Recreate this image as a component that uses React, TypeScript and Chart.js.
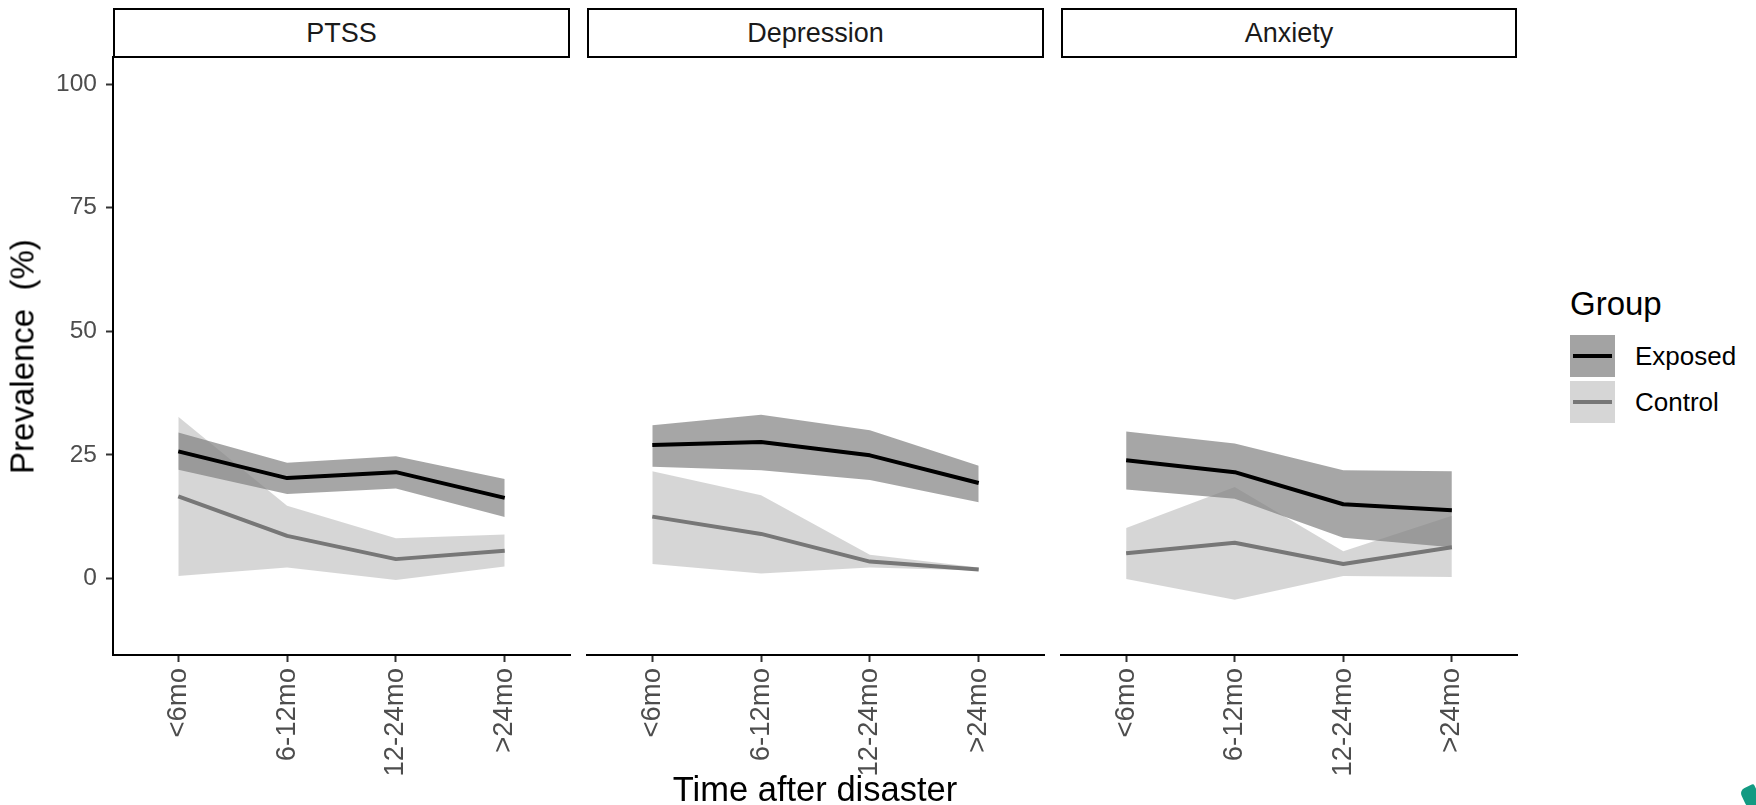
import React, { useEffect, useRef } from 'react';
import { Chart, registerables } from 'chart.js';

Chart.register(...registerables);

const FONT = '"Liberation Sans", Arial, Helvetica, sans-serif';

// ---------- data ----------
const categories = ['<6mo', '6-12mo', '12-24mo', '>24mo'];
const xPositions = [1, 2, 3, 4];
const yTicks = [0, 25, 50, 75, 100];
const yMin = -15.5;
const yMax = 105.5;
const panelTitles = ['PTSS', 'Depression', 'Anxiety'];
const groupLabels = ['Exposed', 'Control'];

const ptssExposed = [25.7, 20.3, 21.5, 16.3];
const ptssExposedLow = [22.0, 17.1, 18.2, 12.4];
const ptssExposedHigh = [29.5, 23.4, 24.7, 20.1];
const ptssControl = [16.6, 8.6, 3.9, 5.6];
const ptssControlLow = [0.5, 2.2, -0.3, 2.4];
const ptssControlHigh = [32.7, 14.7, 8.1, 8.9];

const depExposed = [27.0, 27.6, 24.9, 19.3];
const depExposedLow = [22.6, 21.9, 19.9, 15.4];
const depExposedHigh = [31.0, 33.1, 30.0, 22.8];
const depControl = [12.5, 9.0, 3.4, 1.8];
const depControlLow = [2.9, 1.0, 2.2, 1.6];
const depControlHigh = [21.7, 16.8, 4.8, 2.2];

const anxExposed = [23.9, 21.5, 15.0, 13.8];
const anxExposedLow = [18.0, 16.1, 8.2, 6.3];
const anxExposedHigh = [29.7, 27.3, 21.9, 21.7];
const anxControl = [5.1, 7.2, 2.9, 6.3];
const anxControlLow = [-0.1, -4.3, 0.5, 0.3];
const anxControlHigh = [10.2, 18.5, 5.5, 12.7];

// ---------- styles ----------
const EXPOSED_FILL = 'rgba(128,128,128,0.7)';
const CONTROL_FILL = 'rgba(0,0,0,0.16)';
const EXPOSED_LINE = '#000000';
const CONTROL_LINE = '#777777';
const LINE_W = 4;

const CANVAS_TOP = 47;
const TOP_PAD = 10;
const X_AXIS_H = 145;
const CANVAS_H = 608 + X_AXIS_H; // chart area bottom stays at y = 655
const Y_AXIS_W = 113;

type PanelData = {
  e: number[]; eLow: number[]; eHigh: number[];
  c: number[]; cLow: number[]; cHigh: number[];
};

const panelData: PanelData[] = [
  { e: ptssExposed, eLow: ptssExposedLow, eHigh: ptssExposedHigh, c: ptssControl, cLow: ptssControlLow, cHigh: ptssControlHigh },
  { e: depExposed, eLow: depExposedLow, eHigh: depExposedHigh, c: depControl, cLow: depControlLow, cHigh: depControlHigh },
  { e: anxExposed, eLow: anxExposedLow, eHigh: anxExposedHigh, c: anxControl, cLow: anxControlLow, cHigh: anxControlHigh },
];

// chart-area left/right for each panel
const panelAreas = [
  { left: 113, right: 570 },
  { left: 587, right: 1044 },
  { left: 1061, right: 1517 },
];

const pts = (arr: number[]) => arr.map((v, i) => ({ x: xPositions[i], y: v }));

function Panel({ idx }: { idx: number }) {
  const ref = useRef<HTMLCanvasElement | null>(null);
  const showY = idx === 0;
  const area = panelAreas[idx];
  const canvasLeft = showY ? 0 : area.left - 10;
  const canvasW = area.right + 10 - canvasLeft;

  useEffect(() => {
    if (!ref.current) return;
    const d = panelData[idx];
    const hidden = { borderWidth: 0, pointRadius: 0, pointHoverRadius: 0, tension: 0 };
    const chart = new Chart(ref.current, {
      type: 'line',
      data: {
        datasets: [
          { label: 'ctrlHigh', data: pts(d.cHigh), ...hidden, fill: false, order: 4 },
          { label: 'ctrlLow', data: pts(d.cLow), ...hidden, fill: '-1', backgroundColor: CONTROL_FILL, order: 4 },
          { label: 'expHigh', data: pts(d.eHigh), ...hidden, fill: false, order: 3 },
          { label: 'expLow', data: pts(d.eLow), ...hidden, fill: '-1', backgroundColor: EXPOSED_FILL, order: 3 },
          {
            label: groupLabels[1], data: pts(d.c), borderColor: CONTROL_LINE, borderWidth: LINE_W,
            pointRadius: 0, fill: false, tension: 0, borderJoinStyle: 'round', borderCapStyle: 'butt', order: 2,
          },
          {
            label: groupLabels[0], data: pts(d.e), borderColor: EXPOSED_LINE, borderWidth: LINE_W,
            pointRadius: 0, fill: false, tension: 0, borderJoinStyle: 'round', borderCapStyle: 'butt', order: 1,
          },
        ] as any,
      },
      options: {
        responsive: false,
        animation: false,
        devicePixelRatio: 1,
        layout: { padding: { top: TOP_PAD, left: showY ? 0 : 10, right: 10, bottom: 0 } },
        plugins: { legend: { display: false }, tooltip: { enabled: false }, title: { display: false } },
        events: [],
        scales: {
          x: {
            type: 'linear',
            min: 0.4,
            max: 4.6,
            afterBuildTicks: (s: any) => { s.ticks = xPositions.map((v) => ({ value: v })); },
            afterFit: (s: any) => {
              s.height = X_AXIS_H;
              s.paddingLeft = 0;
              s.paddingRight = 0;
            },
            ticks: {
              autoSkip: false,
              minRotation: 90,
              maxRotation: 90,
              padding: 6,
              color: '#4d4d4d',
              font: { family: FONT, size: 27.5 },
              callback: (v: any) => categories[Math.round(Number(v)) - 1] ?? '',
            },
            grid: { display: true, drawOnChartArea: false, drawTicks: true, tickLength: 7, tickWidth: 2, tickColor: '#333333' },
            border: { display: true, color: '#000000', width: 2 },
          },
          y: {
            type: 'linear',
            min: yMin,
            max: yMax,
            display: showY,
            afterBuildTicks: (s: any) => { s.ticks = yTicks.map((v) => ({ value: v })); },
            afterFit: (s: any) => {
              if (showY) s.width = Y_AXIS_W;
              s.paddingTop = 0;
              s.paddingBottom = 0;
            },
            ticks: { padding: 9, color: '#4d4d4d', font: { family: FONT, size: 24.5 } },
            grid: { display: true, drawOnChartArea: false, drawTicks: true, tickLength: 7, tickWidth: 2, tickColor: '#333333' },
            border: { display: true, color: '#000000', width: 2 },
          },
        },
      } as any,
    });
    return () => chart.destroy();
  }, [idx]);

  return (
    <>
      <canvas
        ref={ref}
        width={canvasW}
        height={CANVAS_H}
        style={{ position: 'absolute', left: canvasLeft, top: CANVAS_TOP, width: canvasW, height: CANVAS_H }}
      />
      <div
        style={{
          position: 'absolute',
          left: area.left,
          top: 8,
          width: area.right - area.left,
          height: 50,
          boxSizing: 'border-box',
          border: '2px solid #000',
          background: '#fff',
          display: 'flex',
          alignItems: 'center',
          justifyContent: 'center',
          fontFamily: FONT,
          fontSize: 27,
          color: '#1a1a1a',
        }}
      >
        {panelTitles[idx]}
      </div>
    </>
  );
}

export default function App() {
  const legendItems = [
    { label: groupLabels[0], fill: '#a3a3a3', line: EXPOSED_LINE, top: 335 },
    { label: groupLabels[1], fill: '#d6d6d6', line: CONTROL_LINE, top: 381 },
  ];
  return (
    <div style={{ position: 'absolute', left: 0, top: 0, width: 1756, height: 805, background: '#fff', overflow: 'hidden', fontFamily: FONT }}>
      {[0, 1, 2].map((i) => <Panel key={i} idx={i} />)}

      {/* y axis title */}
      <div
        style={{
          position: 'absolute', left: 22 - 200, top: 356 - 16.5, width: 400, height: 33, lineHeight: '33px',
          textAlign: 'center', fontSize: 33, color: '#000', transform: 'rotate(-90deg)', whiteSpace: 'pre',
        }}
      >
        {'Prevalence  (%)'}
      </div>

      {/* x axis title */}
      <div
        style={{
          position: 'absolute', left: 815 - 300, top: 772, width: 600, height: 34, lineHeight: '34px',
          textAlign: 'center', fontSize: 34.5, color: '#000', whiteSpace: 'pre',
        }}
      >
        Time after disaster
      </div>

      {/* legend */}
      <div style={{ position: 'absolute', left: 1570, top: 287, height: 33, lineHeight: '33px', fontSize: 33, color: '#000' }}>
        Group
      </div>
      {legendItems.map((it) => (
        <React.Fragment key={it.label}>
          <div style={{ position: 'absolute', left: 1570, top: it.top, width: 45, height: 42, background: it.fill }}>
            <div style={{ position: 'absolute', left: 3, top: 19, width: 39, height: 4, background: it.line }} />
          </div>
          <div style={{ position: 'absolute', left: 1635, top: it.top, height: 42, lineHeight: '42px', fontSize: 26, color: '#000' }}>
            {it.label}
          </div>
        </React.Fragment>
      ))}

      {/* corner mark */}
      <div style={{ position: 'absolute', left: 1743, top: 786, width: 16, height: 22, background: '#139a82', borderRadius: '6px 2px 2px 8px', transform: 'rotate(-25deg)' }} />
    </div>
  );
}
